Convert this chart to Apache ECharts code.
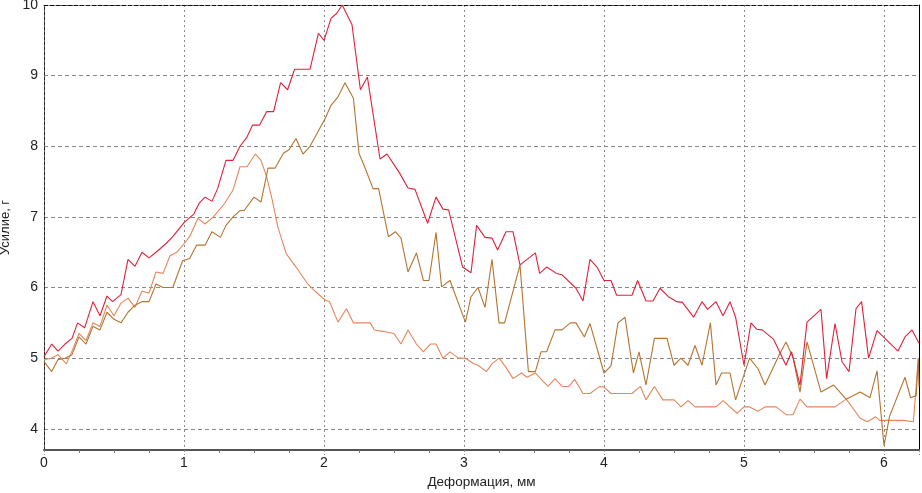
<!DOCTYPE html>
<html>
<head>
<meta charset="utf-8">
<script src="https://cdn.jsdelivr.net/npm/echarts@6/dist/echarts.min.js"></script>
<style>
  html, body { margin: 0; padding: 0; background: #fff; }
  #chart { width: 922px; height: 493px; }
</style>
</head>
<body>
<div id="chart"></div>
<script>
// Деформация (мм) / усилие (г)
const redX = [0, 0.055, 0.1, 0.15, 0.2, 0.24, 0.29, 0.35, 0.4, 0.45, 0.49, 0.55, 0.6, 0.65, 0.7, 0.75, 0.8, 0.87, 0.92, 1.0,
  1.07, 1.11, 1.15, 1.2, 1.24, 1.3, 1.35, 1.4, 1.45, 1.49, 1.54, 1.59, 1.64, 1.69, 1.74, 1.79, 1.9, 1.96, 2.0, 2.05,
  2.09, 2.13, 2.2, 2.26, 2.31, 2.4, 2.45, 2.54, 2.6, 2.65, 2.74, 2.8, 2.85, 2.89, 2.99, 3.05, 3.09, 3.15, 3.2, 3.24,
  3.3, 3.35, 3.4, 3.51, 3.54, 3.59, 3.66, 3.7, 3.8, 3.85, 3.9, 3.95, 4.0, 4.05, 4.09, 4.2, 4.24, 4.3, 4.35, 4.4,
  4.46, 4.52, 4.56, 4.64, 4.7, 4.74, 4.8, 4.85, 4.9, 4.94, 5.0, 5.05, 5.09, 5.13, 5.21, 5.3, 5.34, 5.4, 5.45, 5.55,
  5.59, 5.65, 5.7, 5.75, 5.8, 5.84, 5.89, 5.95, 6.1, 6.15, 6.2, 6.25];
const redY = [5.02, 5.2, 5.1, 5.2, 5.28, 5.5, 5.43, 5.8, 5.6, 5.88, 5.8, 5.9, 6.4, 6.3, 6.5, 6.42, 6.5, 6.62, 6.72, 6.92,
  7.04, 7.2, 7.28, 7.22, 7.4, 7.8, 7.8, 8.0, 8.13, 8.3, 8.3, 8.49, 8.49, 8.9, 8.8, 9.09, 9.09, 9.6, 9.5, 9.81,
  9.88, 10.0, 9.72, 8.8, 8.98, 7.82, 7.89, 7.62, 7.41, 7.39, 6.91, 7.28, 7.11, 7.1, 6.29, 6.21, 6.88, 6.71, 6.7, 6.53,
  6.79, 6.79, 6.32, 6.49, 6.2, 6.29, 6.2, 6.18, 5.99, 5.81, 6.4, 6.29, 6.1, 6.1, 5.89, 5.89, 6.1, 5.81, 5.81, 5.99,
  5.87, 5.8, 5.79, 5.58, 5.8, 5.69, 5.8, 5.6, 5.8, 5.58, 4.9, 5.5, 5.41, 5.4, 5.27, 4.9, 5.09, 4.62, 5.51, 5.69,
  4.71, 5.49, 4.95, 4.81, 5.7, 5.8, 5.0, 5.39, 5.1, 5.3, 5.4, 5.21];

const brownX = [0, 0.055, 0.1, 0.15, 0.2, 0.25, 0.3, 0.35, 0.4, 0.45, 0.5, 0.55, 0.6, 0.65, 0.7, 0.75, 0.8, 0.85, 0.92, 0.99,
  1.04, 1.09, 1.15, 1.2, 1.26, 1.3, 1.35, 1.4, 1.43, 1.5, 1.55, 1.6, 1.65, 1.71, 1.75, 1.8, 1.85, 1.9, 1.95, 2.01,
  2.05, 2.1, 2.15, 2.21, 2.25, 2.3, 2.35, 2.39, 2.46, 2.51, 2.55, 2.6, 2.66, 2.71, 2.75, 2.8, 2.84, 2.9, 3.01, 3.05,
  3.1, 3.15, 3.2, 3.25, 3.29, 3.4, 3.46, 3.51, 3.55, 3.59, 3.65, 3.7, 3.76, 3.8, 3.86, 3.9, 4.0, 4.05, 4.1, 4.15,
  4.21, 4.25, 4.3, 4.36, 4.45, 4.5, 4.55, 4.6, 4.65, 4.7, 4.76, 4.8, 4.84, 4.9, 4.94, 5.04, 5.1, 5.15, 5.25, 5.3,
  5.35, 5.4, 5.45, 5.55, 5.64, 5.73, 5.83, 5.9, 5.95, 6.0, 6.04, 6.15, 6.19, 6.23, 6.245, 6.25];
const brownY = [4.95, 4.81, 4.98, 5.0, 5.05, 5.3, 5.2, 5.45, 5.4, 5.65, 5.55, 5.5, 5.65, 5.75, 5.8, 5.8, 6.05, 6.0, 6.0, 6.38,
  6.41, 6.6, 6.6, 6.79, 6.71, 6.88, 7.0, 7.09, 7.09, 7.28, 7.21, 7.69, 7.69, 7.9, 7.95, 8.11, 7.89, 8.0, 8.18, 8.4,
  8.58, 8.7, 8.9, 8.68, 7.9, 7.66, 7.4, 7.4, 6.72, 6.79, 6.7, 6.22, 6.49, 6.1, 6.1, 6.78, 6.01, 6.1, 5.51, 5.87,
  6.0, 5.72, 6.4, 5.5, 5.5, 6.32, 4.81, 4.81, 5.09, 5.09, 5.4, 5.4, 5.5, 5.5, 5.3, 5.49, 4.79, 4.89, 5.5, 5.58,
  4.79, 5.09, 4.62, 5.28, 5.28, 4.9, 5.0, 4.9, 5.18, 4.9, 5.5, 4.62, 4.79, 4.79, 4.41, 5.0, 4.85, 4.62, 5.04, 5.23,
  5.01, 4.52, 5.23, 4.52, 4.62, 4.42, 4.52, 4.44, 4.82, 3.76, 4.18, 4.73, 4.44, 4.47, 5.0, 4.6];

const orangeX = [0, 0.05, 0.1, 0.16, 0.2, 0.25, 0.3, 0.35, 0.4, 0.45, 0.5, 0.55, 0.6, 0.65, 0.7, 0.75, 0.8, 0.85, 0.9, 0.95,
  1.0, 1.04, 1.1, 1.15, 1.21, 1.29, 1.35, 1.4, 1.45, 1.51, 1.55, 1.59, 1.63, 1.67, 1.73, 1.8, 1.88, 1.94, 2.01, 2.04,
  2.1, 2.16, 2.21, 2.33, 2.36, 2.42, 2.5, 2.55, 2.6, 2.66, 2.71, 2.76, 2.8, 2.85, 2.9, 2.96, 3.01, 3.07, 3.1, 3.16,
  3.2, 3.25, 3.3, 3.35, 3.41, 3.45, 3.51, 3.6, 3.65, 3.7, 3.75, 3.79, 3.85, 3.9, 3.97, 4.0, 4.05, 4.2, 4.26, 4.3,
  4.36, 4.42, 4.5, 4.55, 4.6, 4.65, 4.8, 4.85, 4.95, 5.0, 5.04, 5.1, 5.15, 5.23, 5.3, 5.35, 5.4, 5.45, 5.65, 5.73,
  5.83, 5.88, 5.94, 5.97, 6.14, 6.21, 6.245];
const orangeY = [4.98, 5.0, 5.05, 4.92, 5.1, 5.35, 5.25, 5.5, 5.45, 5.75, 5.6, 5.78, 5.85, 5.72, 5.95, 5.92, 6.22, 6.2, 6.45, 6.5,
  6.62, 6.72, 6.98, 6.9, 7.0, 7.19, 7.38, 7.71, 7.71, 7.89, 7.8, 7.57, 7.24, 6.86, 6.48, 6.29, 6.06, 5.94, 5.82, 5.8,
  5.51, 5.7, 5.5, 5.5, 5.4, 5.38, 5.35, 5.2, 5.4, 5.2, 5.09, 5.2, 5.2, 5.0, 5.09, 5.0, 5.0, 4.92, 4.9, 4.81,
  4.92, 5.0, 4.87, 4.71, 4.79, 4.73, 4.79, 4.6, 4.71, 4.6, 4.6, 4.7, 4.5, 4.5, 4.6, 4.59, 4.5, 4.5, 4.6, 4.41,
  4.6, 4.41, 4.41, 4.31, 4.4, 4.31, 4.31, 4.4, 4.22, 4.31, 4.31, 4.25, 4.31, 4.31, 4.2, 4.2, 4.42, 4.31, 4.31, 4.42,
  4.15, 4.1, 4.17, 4.12, 4.12, 4.1, 5.0];

const xTicks = [0, 1, 2, 3, 4, 5, 6];
const yTicks = [4, 5, 6, 7, 8, 9, 10];

const pairs = (xs, ys) => xs.map((x, i) => [x, ys[i]]);

const chart = echarts.init(document.getElementById('chart'), null, { renderer: 'canvas' });

const font = { fontFamily: 'Liberation Sans, Arial, sans-serif', fontSize: 14, color: '#222' };

const lineSeries = (data, color) => ({
  type: 'line',
  data: data,
  showSymbol: false,
  symbol: 'none',
  lineStyle: { color: color, width: 1.1 },
  itemStyle: { color: color },
  animation: false,
  z: 3
});

const option = {
  backgroundColor: '#fff',
  animation: false,
  grid: { left: 44, right: 3, top: 5, bottom: 43, outerBoundsMode: 'none', containLabel: false },
  xAxis: [
    {
      type: 'value',
      min: 0,
      max: 6.25,
      interval: 1,
      name: 'Деформация, мм',
      nameLocation: 'middle',
      nameGap: 25,
      nameTextStyle: { ...font, fontSize: 13.5 },
      axisLine: { onZero: false, lineStyle: { color: '#555', width: 2 } },
      axisTick: { show: true, length: 5, inside: false, lineStyle: { color: '#888', type: [2, 2] } },
      minorTick: { show: true, splitNumber: 4, length: 3, lineStyle: { color: '#777' } },
      axisLabel: {
        ...font,
        margin: 6,
        showMaxLabel: false,
        formatter: v => (xTicks.includes(v) ? String(v) : '')
      },
      splitLine: { show: true, lineStyle: { color: '#8a8a8a', type: [2, 3], width: 1 } }
    },
    {
      type: 'value',
      position: 'top',
      min: 0,
      max: 6.25,
      axisLine: { show: true, onZero: false, lineStyle: { color: '#111', type: [4, 2], width: 1 } },
      axisTick: { show: false },
      axisLabel: { show: false },
      splitLine: { show: false }
    }
  ],
  yAxis: [
    {
      type: 'value',
      min: 3.7,
      max: 10,
      splitNumber: 6,
      name: 'Усилие, г',
      nameLocation: 'middle',
      nameGap: 26,
      nameTextStyle: { ...font, fontSize: 13 },
      axisLine: { show: true, onZero: false, lineStyle: { color: '#222', type: [3, 2], width: 1 } },
      axisTick: { show: false },
      axisLabel: {
        ...font,
        margin: 6,
        showMinLabel: false,
        formatter: v => (yTicks.includes(v) ? String(v) : '')
      },
      splitLine: { show: true, lineStyle: { color: '#8a8a8a', type: [4, 3], width: 1 } }
    },
    {
      type: 'value',
      position: 'right',
      min: 3.7,
      max: 10,
      axisLine: { show: true, onZero: false, lineStyle: { color: '#000', width: 1 } },
      axisTick: { show: false },
      axisLabel: { show: false },
      splitLine: { show: false }
    }
  ],
  series: [
    lineSeries(pairs(orangeX, orangeY), '#e4875c'),
    lineSeries(pairs(brownX, brownY), '#b5742f'),
    lineSeries(pairs(redX, redY), '#e0213b')
  ]
};

chart.setOption(option);
</script>
</body>
</html>
